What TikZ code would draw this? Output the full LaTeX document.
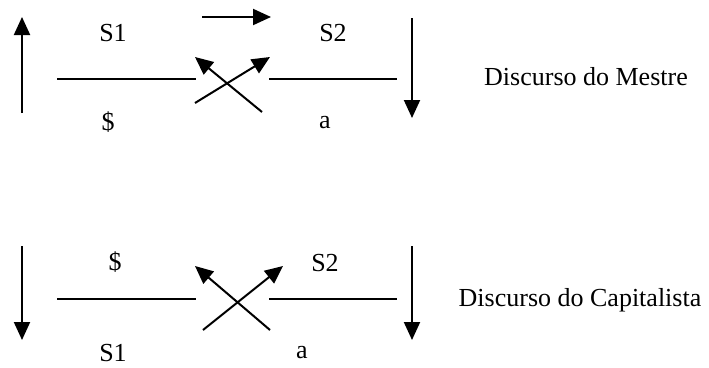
\documentclass[tikz,border=0pt]{standalone}
\usepackage{fontspec}
\setmainfont{Liberation Serif}
\usetikzlibrary{arrows.meta}

\begin{document}
\begin{tikzpicture}[x=1pt, y=-1pt,
    lbl/.style={inner sep=0pt, font=\fontsize{26}{30}\selectfont},
    bar/.style={line width=2pt},
    arr/.style={line width=2pt, -{Triangle[length=18pt, width=16pt]}}]
  \useasboundingbox (0,0) rectangle (709,367);

  % Discurso do Mestre
  \node[lbl] (m-s1) at (113,33) {S1};
  \node[lbl] (m-s2) at (333,33) {S2};
  \node[lbl] (m-sb) at (108,122) {\$};
  \node[lbl] (m-a)  at (325,123) {a};
  \node[lbl] (m-name) at (586,77) {Discurso do Mestre};

  \coordinate (m-up0) at (22,113);   \coordinate (m-up1) at (22,17);
  \coordinate (m-top0) at (202,17);  \coordinate (m-top1) at (271,17);
  \coordinate (m-dn0) at (412,18);   \coordinate (m-dn1) at (412,118);
  \coordinate (m-l0) at (57,79);     \coordinate (m-l1) at (196,79);
  \coordinate (m-r0) at (269,79);    \coordinate (m-r1) at (397,79);
  \coordinate (m-x0) at (195,103);   \coordinate (m-x1) at (270,57);
  \coordinate (m-y0) at (262,112);   \coordinate (m-y1) at (195,57);

  \draw[arr] (m-up0) -- (m-up1);
  \draw[arr] (m-top0) -- (m-top1);
  \draw[arr] (m-dn0) -- (m-dn1);
  \draw[bar] (m-l0) -- (m-l1);
  \draw[bar] (m-r0) -- (m-r1);
  \draw[arr] (m-x0) -- (m-x1);
  \draw[arr] (m-y0) -- (m-y1);

  % Discurso do Capitalista
  \node[lbl] (c-sb) at (115,262) {\$};
  \node[lbl] (c-s2) at (325,263) {S2};
  \node[lbl] (c-s1) at (113,353) {S1};
  \node[lbl] (c-a)  at (302,353) {a};
  \node[lbl] (c-name) at (580,300) {Discurso do Capitalista};

  \coordinate (c-ld0) at (22,246);   \coordinate (c-ld1) at (22,340);
  \coordinate (c-rd0) at (412,246);  \coordinate (c-rd1) at (412,340);
  \coordinate (c-l0) at (57,299);    \coordinate (c-l1) at (196,299);
  \coordinate (c-r0) at (269,299);   \coordinate (c-r1) at (397,299);
  \coordinate (c-x0) at (203,330);   \coordinate (c-x1) at (283,266);
  \coordinate (c-y0) at (270,330);   \coordinate (c-y1) at (195,266);

  \draw[arr] (c-ld0) -- (c-ld1);
  \draw[arr] (c-rd0) -- (c-rd1);
  \draw[bar] (c-l0) -- (c-l1);
  \draw[bar] (c-r0) -- (c-r1);
  \draw[arr] (c-x0) -- (c-x1);
  \draw[arr] (c-y0) -- (c-y1);

\end{tikzpicture}
\end{document}
